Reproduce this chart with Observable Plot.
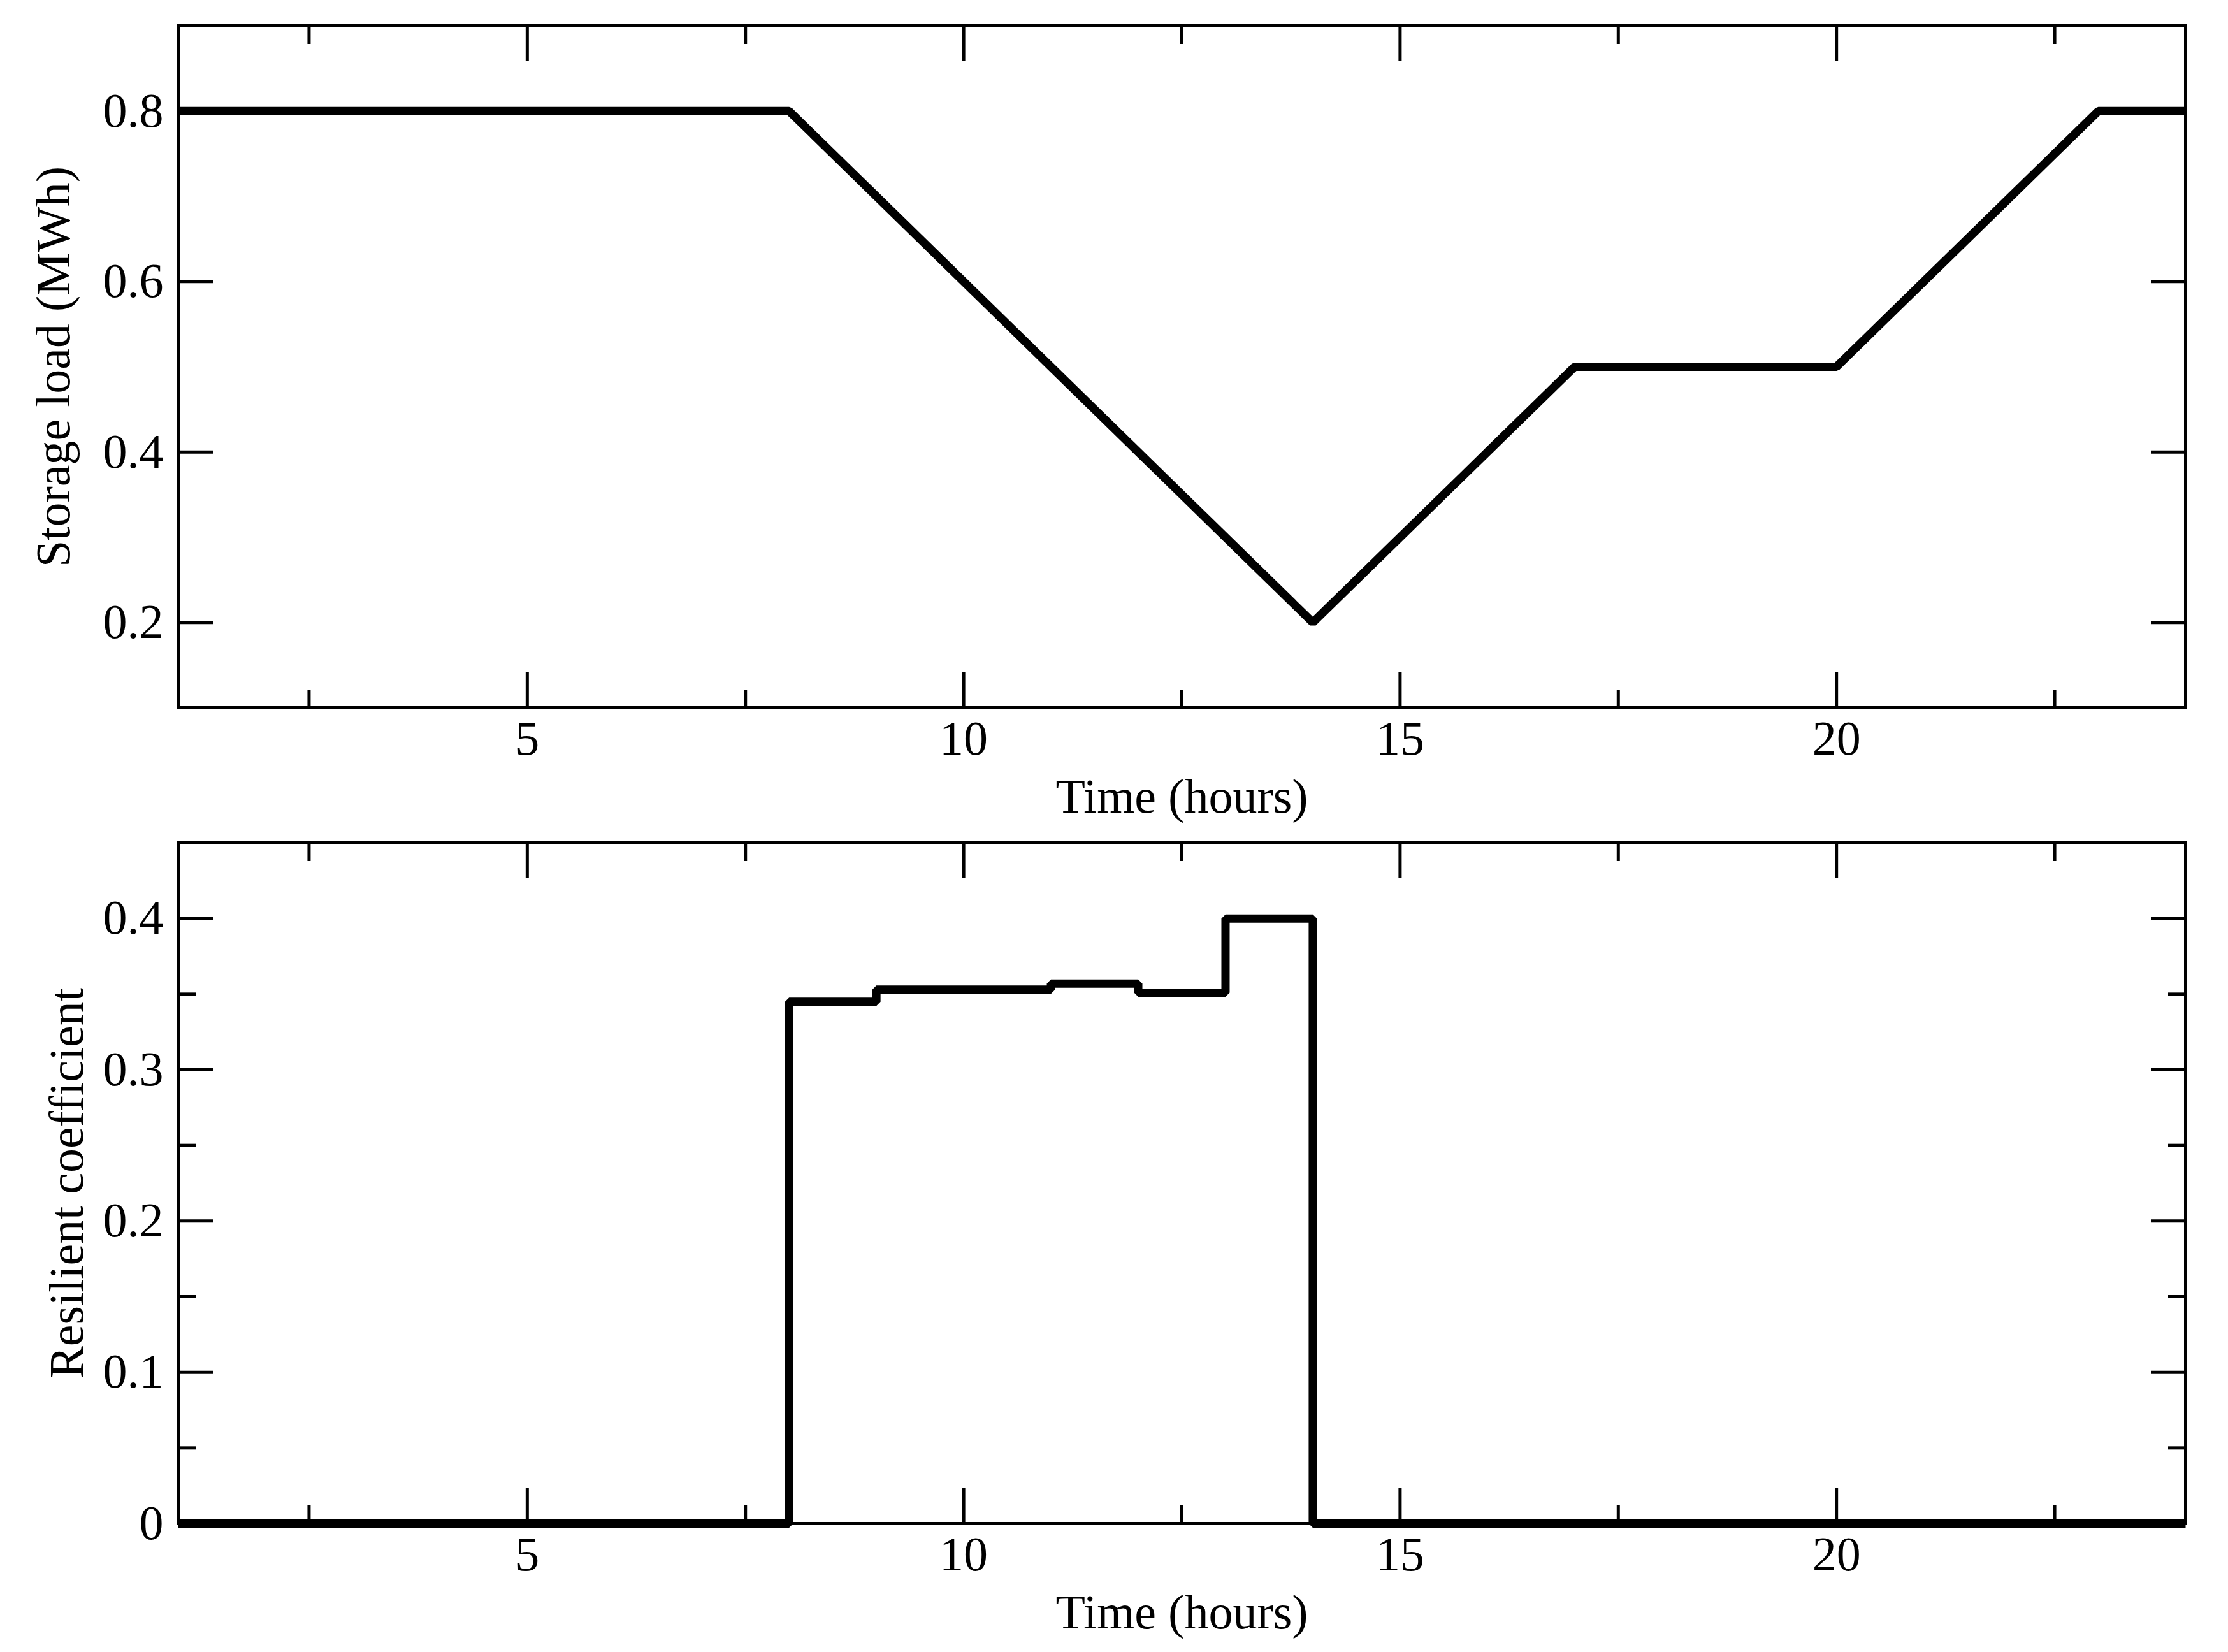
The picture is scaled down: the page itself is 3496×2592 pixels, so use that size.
<!DOCTYPE html>
<html>
<head>
<meta charset="utf-8">
<script src="https://cdn.jsdelivr.net/npm/d3@7"></script>
<script src="https://cdn.jsdelivr.net/npm/@observablehq/plot@0.6"></script>
<style>
  html, body { margin: 0; padding: 0; background: #fff; }
  #chart svg { display: block; }
</style>
</head>
<body>
<div id="chart"></div>
<script>
// ---- data ----
const hours = [1, 2, 3, 4, 5, 6, 7, 8, 9, 10, 11, 12, 13, 14, 15, 16, 17, 18, 19, 20, 21, 22, 23, 24];
const storageLoad = [0.8, 0.8, 0.8, 0.8, 0.8, 0.8, 0.8, 0.8, 0.7, 0.6, 0.5, 0.4, 0.3, 0.2, 0.3, 0.4, 0.5, 0.5, 0.5, 0.5, 0.6, 0.7, 0.8, 0.8];
const resilientCoef = [0, 0, 0, 0, 0, 0, 0, 0.345, 0.353, 0.353, 0.357, 0.351, 0.40, 0, 0, 0, 0, 0, 0, 0, 0, 0, 0, 0];
const xMajorTicks = [5, 10, 15, 20];
const xMinorTicks = [2.5, 7.5, 12.5, 17.5, 22.5];
const yTopTicks = [0.2, 0.4, 0.6, 0.8];
const yBottomTicks = [0, 0.1, 0.2, 0.3, 0.4];
const yBottomMinorTicks = [0.05, 0.15, 0.25, 0.35, 0.45];
const xLabel = "Time (hours)";
const yTopLabel = "Storage load (MWh)";
const yBottomLabel = "Resilient coefficient";

const topRows = hours.map((h, i) => ({hour: h, value: storageLoad[i]}));
const bottomRows = hours.map((h, i) => ({hour: h, value: resilientCoef[i]}));

const W = 3496;
const chartStyle = {fontFamily: "'Liberation Serif', 'Times New Roman', serif", fontSize: "76px", background: "#fff", color: "#000", overflow: "visible"};
const MAJ = 55, MIN = 28, TW = 5;

function tickMarks(xMaj, xMin, yMaj, yMin) {
  const m = [];
  for (const anchor of ["bottom", "top"]) {
    m.push(Plot.axisX({anchor, ticks: xMaj, tickSize: -MAJ, fill: "none", strokeWidth: TW, label: null}));
    m.push(Plot.axisX({anchor, ticks: xMin, tickSize: -MIN, fill: "none", strokeWidth: TW, label: null}));
  }
  for (const anchor of ["left", "right"]) {
    m.push(Plot.axisY({anchor, ticks: yMaj, tickSize: -MAJ, fill: "none", strokeWidth: TW, label: null}));
    if (yMin) m.push(Plot.axisY({anchor, ticks: yMin, tickSize: -MIN, fill: "none", strokeWidth: TW, label: null}));
  }
  return m;
}

const topChart = Plot.plot({
  width: W, height: 1296,
  marginTop: 40, marginBottom: 186, marginLeft: 279, marginRight: 67,
  style: chartStyle,
  x: {domain: [1, 24]},
  y: {domain: [0.1, 0.9]},
  marks: [
    Plot.line(topRows, {x: "hour", y: "value", stroke: "#000", strokeWidth: 13, strokeLinejoin: "miter", strokeLinecap: "butt"}),
    ...tickMarks(xMajorTicks, xMinorTicks, yTopTicks, null),
    Plot.axisX({anchor: "bottom", ticks: xMajorTicks, tickSize: 0, tickPadding: 20, label: xLabel, labelAnchor: "center", labelOffset: 164, labelArrow: "none"}),
    Plot.axisY({anchor: "left", ticks: yTopTicks, tickSize: 0, tickPadding: 23, tickFormat: d3.format(".1f"), label: yTopLabel, labelAnchor: "center", labelOffset: 224, labelArrow: "none"}),
    Plot.frame({stroke: "#000", strokeWidth: TW})
  ]
});

const bottomChart = Plot.plot({
  width: W, height: 1296,
  marginTop: 26, marginBottom: 202, marginLeft: 279, marginRight: 67,
  style: chartStyle,
  x: {domain: [1, 24]},
  y: {domain: [0, 0.45]},
  marks: [
    Plot.line(bottomRows, {x: "hour", y: "value", curve: "step-after", stroke: "#000", strokeWidth: 13, strokeLinejoin: "miter", strokeLinecap: "butt"}),
    ...tickMarks(xMajorTicks, xMinorTicks, yBottomTicks, yBottomMinorTicks),
    Plot.axisX({anchor: "bottom", ticks: xMajorTicks, tickSize: 0, tickPadding: 20, label: xLabel, labelAnchor: "center", labelOffset: 164, labelArrow: "none"}),
    Plot.axisY({anchor: "left", ticks: yBottomTicks, tickSize: 0, tickPadding: 23, tickFormat: d => d === 0 ? "0" : d3.format(".1f")(d), label: yBottomLabel, labelAnchor: "center", labelOffset: 203, labelArrow: "none"}),
    Plot.frame({stroke: "#000", strokeWidth: TW})
  ]
});

document.getElementById("chart").append(topChart, bottomChart);
</script>
</body>
</html>
